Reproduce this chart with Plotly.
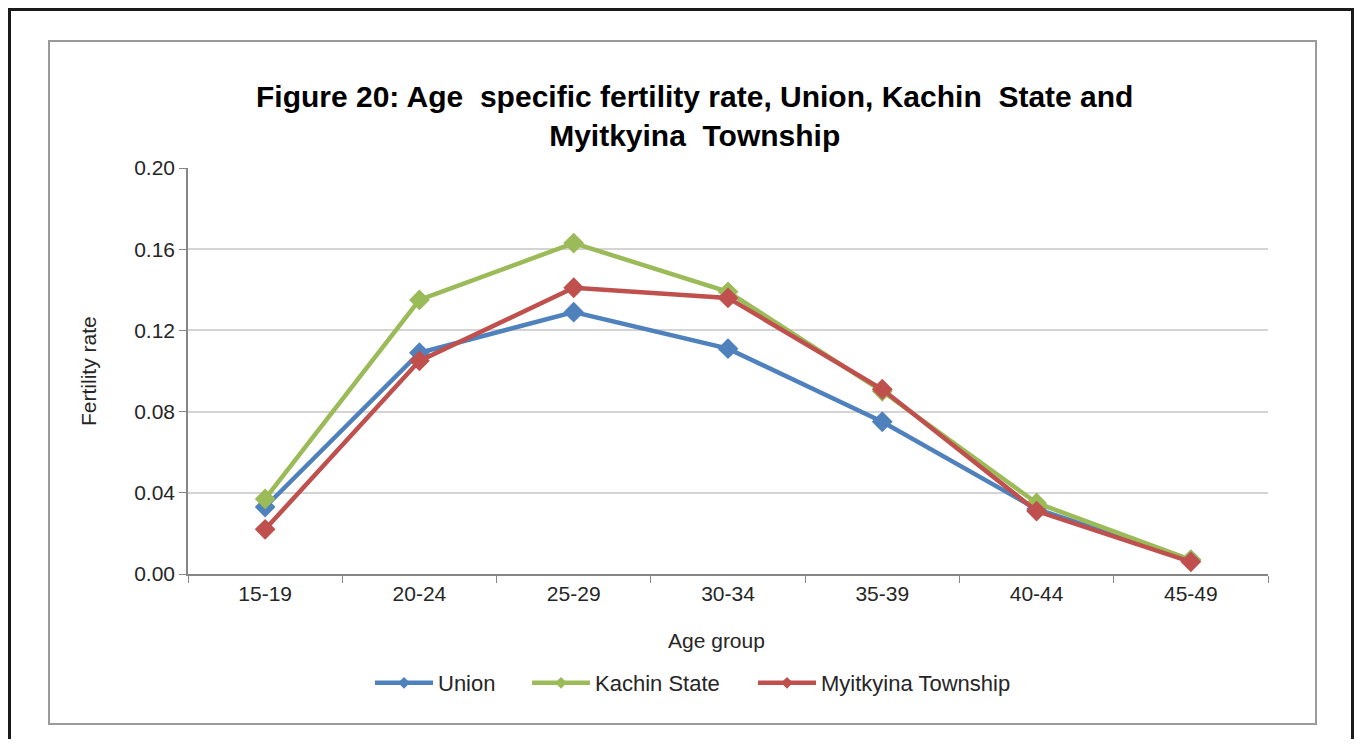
import plotly.graph_objects as go

age_groups = ["15-19", "20-24", "25-29", "30-34", "35-39", "40-44", "45-49"]
union = [0.033, 0.109, 0.129, 0.111, 0.075, 0.032, 0.007]
kachin = [0.037, 0.135, 0.163, 0.139, 0.090, 0.035, 0.007]
myitkyina = [0.022, 0.105, 0.141, 0.136, 0.091, 0.031, 0.006]
y_ticks = [0.00, 0.04, 0.08, 0.12, 0.16, 0.20]

series = [
    ("Union", union, "#4F81BD", "legend"),
    ("Kachin State", kachin, "#9BBB59", "legend2"),
    ("Myitkyina Township", myitkyina, "#C0504D", "legend3"),
]

fig = go.Figure()
for name, vals, col, lg in series:
    fig.add_trace(go.Scatter(
        x=age_groups, y=vals, name=name, mode="lines+markers",
        line=dict(color=col, width=4.5),
        marker=dict(symbol="diamond", size=16, color=col),
        showlegend=False, legendgroup=name,
    ))
    # legend-only entry with a smaller marker (as in the reference legend)
    fig.add_trace(go.Scatter(
        x=[None], y=[None], name=name, mode="lines+markers",
        line=dict(color=col, width=4.5),
        marker=dict(symbol="diamond", size=9, color=col),
        legend=lg, legendgroup=name, hoverinfo="skip",
    ))

OFF = 8  # page body margin
W, H = 1362 - 2 * OFF, 747 - 2 * OFF
L, T = 188 - OFF, 168 - OFF
R = W - (1268 - OFF)
B = H - (574 - OFF)
pw, ph = W - L - R, H - T - B

def px(x):
    return (x - OFF - L) / pw

def py(y):
    return (H - B - (y - OFF)) / ph

font = "Liberation Sans, Arial, sans-serif"

def leg(xpage):
    return dict(orientation="h", x=px(xpage), y=py(683), xanchor="left", yanchor="middle",
                font=dict(size=22, color="#262626"), itemwidth=58, bgcolor="rgba(0,0,0,0)")

fig.update_layout(
    width=W, height=H,
    margin=dict(l=L, r=R, t=T, b=B, autoexpand=False),
    paper_bgcolor="white", plot_bgcolor="white",
    font=dict(family=font, size=21, color="#262626"),
    showlegend=True,
    legend=leg(370),
    legend2=leg(527),
    legend3=leg(753),
    xaxis=dict(
        type="category", tickson="boundaries", ticks="outside", ticklen=7,
        tickcolor="#868686", showline=True, linecolor="#868686", linewidth=1.5,
        showgrid=False, tickfont=dict(size=21, color="#262626"), range=[-0.5, 6.5],
    ),
    yaxis=dict(
        range=[0, 0.2], tickvals=y_ticks, tickformat=".2f", ticks="outside", ticklen=7,
        tickcolor="#868686", showline=True, linecolor="#868686", linewidth=1.5,
        showgrid=True, gridcolor="#D4D4D4", gridwidth=1.5, zeroline=False,
        tickfont=dict(size=21, color="#262626"),
    ),
    annotations=[
        dict(text="<b>Figure 20: Age  specific fertility rate, Union, Kachin  State and<br>Myitkyina  Township</b>",
             x=px(694), y=py(116), xref="paper", yref="paper", xanchor="center", yanchor="middle",
             showarrow=False, font=dict(size=30, color="#000000", family=font)),
        dict(text="Fertility rate", x=px(88), y=py(371), xref="paper", yref="paper",
             textangle=-90, showarrow=False, xanchor="center", yanchor="middle",
             font=dict(size=21, color="#262626")),
        dict(text="Age group", x=px(716), y=py(640), xref="paper", yref="paper",
             showarrow=False, xanchor="center", yanchor="middle",
             font=dict(size=21, color="#262626")),
    ],
    shapes=[
        dict(type="rect", xref="paper", yref="paper", x0=px(9.5), x1=px(1352.5), y0=py(790), y1=py(9.5),
             line=dict(color="#1a1a1a", width=3), layer="above"),
        dict(type="rect", xref="paper", yref="paper", x0=px(49), x1=px(1316), y0=py(724), y1=py(41),
             line=dict(color="#9a9a9a", width=2), layer="above"),
    ],
)

fig.write_html("out.html")
